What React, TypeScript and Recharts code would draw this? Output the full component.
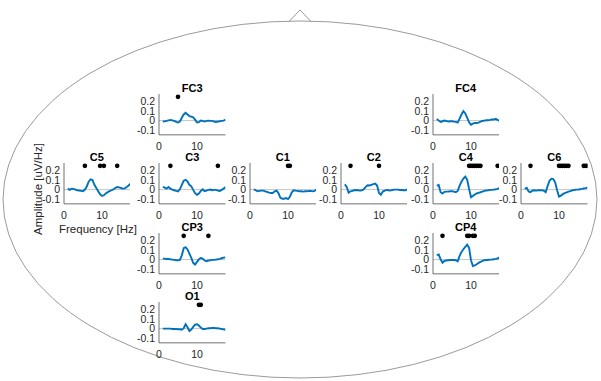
import React from "react";
import { ComposedChart, Line, Scatter, XAxis, YAxis, ReferenceLine } from "recharts";

// frequency bins (Hz)
const freqs = [
  1, 1.5, 2, 2.5, 3, 3.5, 4, 4.5, 5, 5.5, 6, 6.5, 7, 7.5, 8, 8.5, 9,
  9.5, 10, 10.5, 11, 11.5, 12, 12.5, 13, 13.5, 14, 14.5, 15, 15.5, 16, 16.5, 17, 17.5,
];

const fc3 = [
  -0.01, -0.007, -0.003, 0.003, 0.007, 0.003, -0.003, -0.014, -0.02, -0.01, 0.03, 0.065, 0.083, 0.065, 0.048, 0.041, 0.034,
  0.01, -0.02, -0.017, 0, -0.003, -0.01, -0.003, 0, -0.003, -0.003, -0.01, -0.014, -0.01, -0.007, -0.003, 0, 0.01,
];
const fc4 = [
  0.018, 0, -0.014, -0.007, 0, -0.004, -0.011, -0.007, -0.007, -0.011, -0.014, -0.021, 0.021, 0.064, 0.1, 0.075, 0.029,
  -0.018, -0.043, -0.032, -0.025, -0.025, -0.021, -0.011, -0.004, 0, 0.004, 0.004, 0.007, 0.011, 0.011, 0.018, 0.007, 0,
];
const c5 = [
  0.01, -0.003, 0.01, 0.007, 0, -0.007, -0.01, -0.013, -0.017, 0, 0.033, 0.083, 0.107, 0.1, 0.05, 0.017, -0.017,
  -0.05, -0.067, -0.06, -0.04, -0.027, -0.017, -0.007, 0.003, 0.017, 0.027, 0.023, 0.017, 0.01, 0.013, 0.027, 0.043, 0.063,
];
const c3 = [
  0.03, 0.02, 0.01, 0.027, 0.01, 0, -0.007, -0.014, -0.02, 0.003, 0.05, 0.093, 0.103, 0.086, 0.05, 0.034, -0.003,
  -0.038, -0.055, -0.041, -0.014, 0.003, -0.017, -0.01, -0.003, 0, -0.007, -0.003, -0.003, -0.01, -0.014, -0.003, 0.01, 0.027,
];
const c1 = [
  0.003, -0.007, -0.018, -0.014, -0.011, -0.011, -0.018, -0.025, -0.032, -0.036, -0.036, -0.018, -0.011, -0.039, -0.086, -0.096, -0.096,
  -0.089, -0.1, -0.075, -0.029, -0.007, -0.011, -0.014, -0.018, -0.018, -0.021, -0.018, -0.018, -0.014, -0.014, -0.018, -0.014, 0,
];
const c2 = [
  0.054, 0.029, -0.032, -0.018, -0.014, -0.007, -0.004, -0.007, -0.011, -0.007, 0.004, 0.029, 0.046, 0.043, 0.05, 0.057, 0.064,
  0.043, -0.036, -0.054, -0.021, -0.011, -0.004, -0.007, -0.011, -0.004, 0, 0, 0, -0.004, -0.004, -0.007, -0.007, 0.004,
];
const c4 = [
  0.041, 0.048, -0.028, -0.041, -0.024, -0.021, -0.021, -0.017, -0.017, -0.021, -0.028, -0.014, 0.041, 0.083, 0.117, 0.138, 0.103,
  0.007, -0.079, -0.066, -0.052, -0.041, -0.034, -0.028, -0.021, -0.014, -0.01, -0.007, -0.003, -0.003, 0, 0.003, 0.007, 0.017,
];
const c6 = [
  0.007, 0.019, -0.019, -0.026, -0.011, -0.007, -0.011, -0.007, -0.007, -0.007, -0.011, -0.026, 0.037, 0.093, 0.115, 0.111, 0.074,
  -0.007, -0.074, -0.063, -0.048, -0.037, -0.03, -0.022, -0.015, -0.007, -0.004, 0, 0, 0.004, 0.007, 0.011, 0.015, 0.022,
];
const cp3 = [
  0.01, 0.01, 0.007, 0.007, 0.003, 0, -0.003, -0.007, -0.007, -0.003, 0.045, 0.12, 0.13, 0.107, 0.062, 0.017, -0.034,
  -0.052, -0.024, 0.003, 0.017, 0.01, -0.01, -0.017, -0.01, -0.007, -0.003, -0.003, 0, 0.003, 0.007, 0.014, 0.021, 0.024,
];
const cp4 = [
  0.046, 0.053, 0.004, -0.032, -0.014, -0.01, -0.007, -0.004, -0.004, -0.004, -0.007, -0.018, 0.039, 0.081, 0.109, 0.133, 0.158,
  0.123, -0.007, -0.067, -0.06, -0.049, -0.035, -0.025, -0.014, -0.007, -0.004, -0.004, 0, 0, 0.004, 0.007, 0.011, 0.025,
];
const o1 = [
  0, 0, 0, 0, 0, -0.004, -0.004, -0.004, -0.007, -0.007, -0.011, 0.004, 0.046, 0.014, -0.025, -0.011, 0.018,
  0.042, 0.046, 0.032, 0.011, -0.004, -0.004, 0, 0.004, 0.004, 0.007, 0.007, 0.004, 0.004, 0, -0.004, -0.007, -0.014,
];

// significant frequencies (black dots)
const fc3Sig = [5];
const fc4Sig: number[] = [];
const c5Sig = [5.5, 9.5, 10.5, 14];
const c3Sig = [3, 15.5];
const c1Sig = [10, 10.5];
const c2Sig = [2.5, 10];
const c4Sig = [9.5, 10, 10.5, 11, 11.5, 12, 12.5, 17, 17.5];
const c6Sig = [2.5, 10, 10.5, 11, 11.5, 12, 12.5, 16.5, 17, 17.5];
const cp3Sig = [6.5, 13];
const cp4Sig = [2.5, 9, 9.5, 10.5, 11];
const o1Sig = [10.5, 11];

const xTicks = [0, 10];
const yTicks = [-0.1, 0, 0.1, 0.2];

// axis-left x and zero-line y of each small plot on the page
const layout: Record<string, [number, number]> = {
  FC3: [159, 121],
  FC4: [432.5, 121],
  C5: [63.5, 190],
  C3: [159, 190],
  C1: [249.5, 190],
  C2: [340.5, 190],
  C4: [432.5, 190],
  C6: [521, 190],
  CP3: [159, 259.5],
  CP4: [432.5, 259.5],
  O1: [159, 329],
};

const channels = [
  { name: "FC3", values: fc3, sig: fc3Sig },
  { name: "FC4", values: fc4, sig: fc4Sig },
  { name: "C5", values: c5, sig: c5Sig },
  { name: "C3", values: c3, sig: c3Sig },
  { name: "C1", values: c1, sig: c1Sig },
  { name: "C2", values: c2, sig: c2Sig },
  { name: "C4", values: c4, sig: c4Sig },
  { name: "C6", values: c6, sig: c6Sig },
  { name: "CP3", values: cp3, sig: cp3Sig },
  { name: "CP4", values: cp4, sig: cp4Sig },
  { name: "O1", values: o1, sig: o1Sig },
];

const X_MAX = 17.5;
const Y_MIN = -0.15;
const Y_MAX = 0.28;
const PX_X = 3.8;
const PX_Y = 95;
const PLOT_W = X_MAX * PX_X;
const PLOT_H = (Y_MAX - Y_MIN) * PX_Y;
const Y_AXIS_W = 24;
const X_AXIS_H = 18;
const SIG_LEVEL = 0.25;

const axisColor = "#4d4d4d";
const textColor = "#262626";
const font = "'Liberation Sans', Arial, Helvetica, sans-serif";

const SmallPlot = ({ name, values, sig }: { name: string; values: number[]; sig: number[] }) => {
  const [left, zero] = layout[name];
  const top = zero - Y_MAX * PX_Y;
  const data = freqs.map((f, i) => ({ f, v: values[i] }));
  const dots = sig.map((f) => ({ f, s: SIG_LEVEL }));
  return (
    <div style={{ position: "absolute", left: left - Y_AXIS_W, top }}>
      <ComposedChart
        width={Y_AXIS_W + PLOT_W}
        height={PLOT_H + X_AXIS_H}
        data={data}
        margin={{ top: 0, right: 0, bottom: 0, left: 0 }}
      >
        <XAxis
          dataKey="f"
          type="number"
          domain={[0, X_MAX]}
          ticks={xTicks}
          interval={0}
          allowDataOverflow
          height={X_AXIS_H}
          tickLine={false}
          tickMargin={1.5}
          axisLine={{ stroke: axisColor, strokeWidth: 0.8 }}
          tick={{ fontSize: 10.5, fill: textColor }}
        />
        <YAxis
          type="number"
          domain={[Y_MIN, Y_MAX]}
          ticks={yTicks}
          interval={0}
          allowDataOverflow
          width={Y_AXIS_W}
          tickLine={false}
          tickSize={2}
          tickMargin={2}
          axisLine={{ stroke: axisColor, strokeWidth: 0.8 }}
          tick={{ fontSize: 10.5, fill: textColor }}
          tickFormatter={(v: number) => (v === 0 ? "0" : String(v))}
        />
        <ReferenceLine y={0} stroke="#c4c4c4" strokeWidth={1} />
        <Line
          dataKey="v"
          stroke="#0072BD"
          strokeWidth={1.9}
          dot={false}
          type="linear"
          isAnimationActive={false}
        />
        {dots.length > 0 && (
          <Scatter
            data={dots}
            dataKey="s"
            isAnimationActive={false}
            shape={(p: any) => <circle cx={p.cx} cy={p.cy} r={2.3} fill="#000" />}
          />
        )}
      </ComposedChart>
    </div>
  );
};

const App = () => {
  return (
    <div
      style={{
        position: "absolute",
        left: 0,
        top: 0,
        width: 601,
        height: 381,
        background: "#fff",
        fontFamily: font,
        overflow: "hidden",
      }}
    >
      <svg width={601} height={381} style={{ position: "absolute", left: 0, top: 0 }}>
        <ellipse cx={300} cy={199.5} rx={297} ry={178.5} fill="none" stroke="#8f8f8f" strokeWidth={0.9} />
        <polyline points="289,21.5 300,10 311,21.5" fill="none" stroke="#8f8f8f" strokeWidth={0.9} />
        {channels.map((c) => {
          const [left, zero] = layout[c.name];
          return (
            <text
              key={c.name}
              x={left + PLOT_W / 2}
              y={zero - Y_MAX * PX_Y - 6}
              textAnchor="middle"
              dominantBaseline="central"
              fontSize={11}
              fontWeight="bold"
              fill="#000"
              fontFamily={font}
            >
              {c.name}
            </text>
          );
        })}
        <text
          x={0}
          y={0}
          transform="translate(38,189) rotate(-90)"
          textAnchor="middle"
          dominantBaseline="central"
          fontSize={11.5}
          fill={textColor}
          fontFamily={font}
        >
          Amplitude [uV/Hz]
        </text>
        <text
          x={98}
          y={229}
          textAnchor="middle"
          dominantBaseline="central"
          fontSize={11.5}
          fill={textColor}
          fontFamily={font}
        >
          Frequency [Hz]
        </text>
      </svg>
      {channels.map((c) => (
        <SmallPlot key={c.name} name={c.name} values={c.values} sig={c.sig} />
      ))}
    </div>
  );
};

export default App;
